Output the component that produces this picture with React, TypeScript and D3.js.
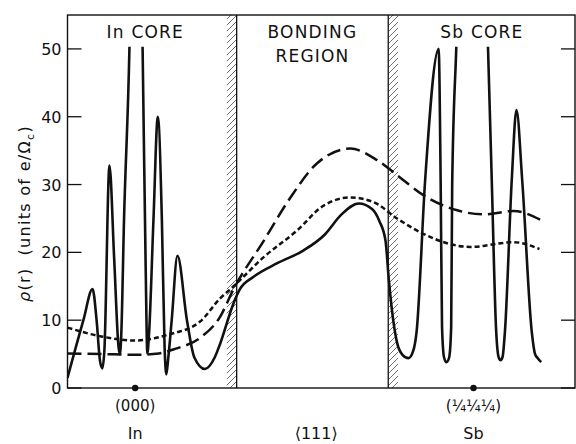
import * as d3 from "d3";

const width = 576;
const height = 444;
const marginLeft = 67.5;
const marginRight = 1;
const marginTop = 15;
const marginBottom = 56;

// x: position along <111>, in units of the In–Sb separation (In at 0, Sb at 1)
const xDomain = [-0.2, 1.3];
const rhoDomain = [0, 55];
const rhoClip = 50.3;

const inCoreEdge = 0.3;
const sbCoreEdge = 0.748;
const hatchWidth = 0.029;

const rhoTicks = [0, 10, 20, 30, 40, 50];
const siteX = [0, 1];
const siteLabels = ["(000)", "(¼¼¼)"];
const atomLabels = ["In", "Sb"];
const directionLabel = "⟨111⟩";
const regionLabelX = [0.03, 0.524, 1.025];
const regionLabels = [["In CORE"], ["BONDING", "REGION"], ["Sb CORE"]];

// solid curve: calculated valence density
const solidCurve: [number, number][] = [
  [-0.2, 1.5], [-0.153, 10], [-0.126, 14.6], [-0.114, 10], [-0.104, 4],
  [-0.097, 2.9], [-0.091, 5.5], [-0.076, 32.8], [-0.062, 19], [-0.049, 6],
  [-0.045, 5], [-0.041, 8], [-0.033, 24.7], [-0.017, 50], [0.002, 110],
  [0.022, 50], [0.031, 18], [0.036, 5.1], [0.041, 8], [0.054, 24.7],
  [0.067, 40], [0.079, 24.7], [0.087, 6], [0.092, 2.0], [0.098, 4.5],
  [0.108, 10], [0.125, 19.5], [0.153, 10], [0.175, 4.5], [0.206, 2.8],
  [0.235, 4.5], [0.251, 6.5], [0.29, 12.4], [0.31, 14.6], [0.35, 16.4],
  [0.42, 18.4], [0.498, 20.3], [0.56, 22.6], [0.61, 25.6], [0.661, 27.2],
  [0.7, 26.4], [0.722, 24.6], [0.74, 21.7], [0.75, 15.8], [0.763, 9.9],
  [0.775, 6.5], [0.79, 4.9], [0.808, 4.4], [0.822, 5.5], [0.832, 8.4],
  [0.857, 30.6], [0.897, 50], [0.903, 30], [0.907, 9], [0.913, 4.5],
  [0.92, 3.8], [0.928, 4.5], [0.934, 9], [0.937, 30], [0.949, 50],
  [0.996, 110], [1.043, 50], [1.054, 30.6], [1.067, 8.4], [1.074, 4.6],
  [1.08, 4.1], [1.086, 4.6], [1.093, 8.4], [1.113, 30.6], [1.127, 41],
  [1.144, 30.6], [1.172, 8.4], [1.182, 5], [1.19, 4.4], [1.2, 3.8],
];

// long dashes
const longDashCurve: [number, number][] = [
  [-0.2, 5.1], [-0.1, 5.0], [0, 4.9], [0.07, 5.1], [0.12, 5.8],
  [0.192, 7.4], [0.251, 10.5], [0.291, 14.6], [0.38, 21.7], [0.459, 28.1],
  [0.537, 33.1], [0.636, 35.3], [0.715, 33.6], [0.774, 31.4], [0.853, 28.4],
  [0.952, 26.2], [1.03, 25.6], [1.119, 26.1], [1.198, 24.8],
];

// short dashes
const shortDashCurve: [number, number][] = [
  [-0.2, 8.9], [-0.1, 7.6], [0, 7.0], [0.1, 7.9], [0.192, 9.8],
  [0.251, 13.2], [0.291, 15.0], [0.38, 19.3], [0.478, 23.2], [0.557, 26.9],
  [0.636, 28.1], [0.705, 27.4], [0.774, 25.0], [0.853, 22.7], [0.991, 20.8],
  [1.119, 21.5], [1.195, 20.5],
];

const font = "'DejaVu Sans', sans-serif";

const App = () => {
  const x = d3.scaleLinear().domain(xDomain).range([marginLeft, width - marginRight]);
  const y = d3.scaleLinear().domain(rhoDomain).range([height - marginBottom, marginTop]);

  const line = d3
    .line<[number, number]>()
    .x((d) => x(d[0]))
    .y((d) => y(d[1]))
    .curve(d3.curveMonotoneX);

  const [x0, x1] = x.range();
  const [yb, yt] = y.range();
  const hatchBands = [
    [inCoreEdge - hatchWidth, inCoreEdge, inCoreEdge],
    [sbCoreEdge, sbCoreEdge + hatchWidth, sbCoreEdge],
  ];

  return (
    <svg width={width} height={height} style={{ display: "block", position: "absolute", left: 0, top: 0 }}>
      <defs>
        <pattern id="hatch" patternUnits="userSpaceOnUse" width={6} height={6}>
          <path d="M-1,1 l2,-2 M0,6 l6,-6 M5,7 l2,-2" stroke="#333" strokeWidth={0.7} />
        </pattern>
        <clipPath id="plot-clip">
          <rect x={x0} y={y(rhoClip)} width={x1 - x0} height={yb - y(rhoClip)} />
        </clipPath>
      </defs>
      <rect width={width} height={height} fill="#fff" />

      <g className="hatch">
        {hatchBands.map(([a, b, edge], i) => (
          <g key={i}>
            <rect x={x(a)} y={yt} width={x(b) - x(a)} height={yb - yt} fill="url(#hatch)" />
            <line x1={x(edge)} x2={x(edge)} y1={yt} y2={yb} stroke="#111" strokeWidth={1.3} />
          </g>
        ))}
      </g>

      <g className="frame" stroke="#111" fill="none">
        <rect x={x0} y={yt} width={x1 - x0} height={yb - yt} strokeWidth={1.4} />
        {rhoTicks.map((t) => (
          <g key={t}>
            <line x1={x0} x2={x0 + 14} y1={y(t)} y2={y(t)} strokeWidth={1.3} />
            <line x1={x1 - 14} x2={x1} y1={y(t)} y2={y(t)} strokeWidth={1.3} />
          </g>
        ))}
      </g>

      <g className="tick-labels" fontFamily={font} fontSize={16} fill="#111" textAnchor="end">
        {rhoTicks.map((t) => (
          <text key={t} x={x0 - 6} y={y(t) + 6}>
            {t}
          </text>
        ))}
      </g>

      <g className="curves" fill="none" stroke="#111">
        <path d={line(shortDashCurve) ?? ""} strokeWidth={2.5} strokeDasharray="5 3" />
        <path d={line(longDashCurve) ?? ""} strokeWidth={2.5} strokeDasharray="14 6" />
        <path
          d={line(solidCurve) ?? ""}
          strokeWidth={2.6}
          strokeLinejoin="round"
          clipPath="url(#plot-clip)"
        />
      </g>

      <g className="region-labels" fontFamily={font} fontSize={17} fill="#111" textAnchor="middle" letterSpacing={1.2}>
        {regionLabels.map((lines, i) =>
          lines.map((s, j) => (
            <text key={`${i}-${j}`} x={x(regionLabelX[i])} y={38 + j * 24}>
              {s}
            </text>
          ))
        )}
      </g>

      <g className="sites" fontFamily={font} fill="#111" textAnchor="middle">
        {siteX.map((s, i) => (
          <g key={i}>
            <circle cx={x(s)} cy={yb} r={3.2} />
            <text x={x(s)} y={yb + 23} fontSize={15}>
              {siteLabels[i]}
            </text>
            <text x={x(s)} y={yb + 51} fontSize={16}>
              {atomLabels[i]}
            </text>
          </g>
        ))}
        <text x={x(0.535)} y={yb + 51} fontSize={16}>
          {directionLabel}
        </text>
      </g>

      <text
        transform={`translate(30,${(yb + yt) / 2 + 12}) rotate(-90)`}
        fontFamily={font}
        fontSize={16}
        fill="#111"
        textAnchor="middle"
        letterSpacing={1.3}
      >
        <tspan fontStyle="italic">ρ</tspan>
        <tspan>(r)</tspan>
        <tspan dx={12}>(units of e/Ω</tspan>
        <tspan fontSize={11} dy={4}>c</tspan>
        <tspan dy={-4}>)</tspan>
      </text>
    </svg>
  );
};

export default App;
